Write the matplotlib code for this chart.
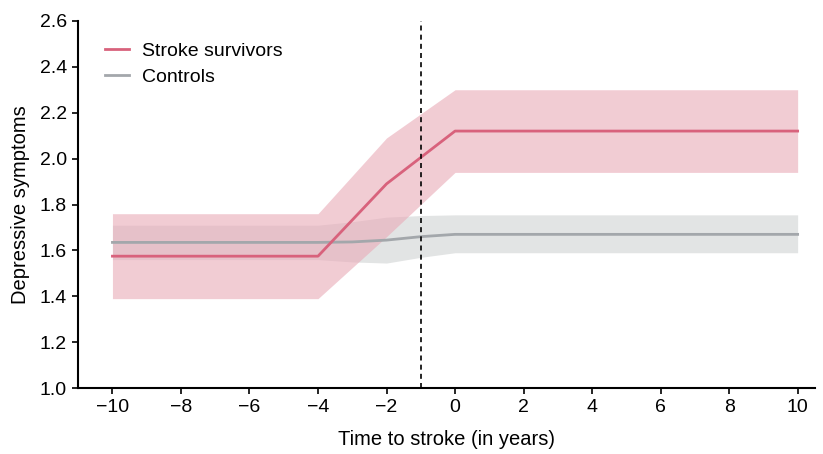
import matplotlib
matplotlib.use("Agg")
import matplotlib.pyplot as plt

plt.rcParams['font.family'] = ['Liberation Sans', 'DejaVu Sans']

years = [-10, -4, -2, 0, 10]
stroke_mean = [1.575, 1.575, 1.89, 2.12, 2.12]
stroke_lo = [1.39, 1.39, 1.66, 1.94, 1.94]
stroke_hi = [1.76, 1.76, 2.09, 2.30, 2.30]

ctrl_years = [-10, -4, -3, -2, -1, 0, 10]
ctrl_mean = [1.635, 1.635, 1.637, 1.645, 1.66, 1.67, 1.67]
ctrl_lo = [1.56, 1.56, 1.55, 1.545, 1.57, 1.59, 1.59]
ctrl_hi = [1.71, 1.71, 1.725, 1.745, 1.752, 1.755, 1.755]

xticks = [-10, -8, -6, -4, -2, 0, 2, 4, 6, 8, 10]
yticks = [1.0, 1.2, 1.4, 1.6, 1.8, 2.0, 2.2, 2.4, 2.6]

fig = plt.figure(figsize=(8.23, 4.54), dpi=100)
ax = fig.add_axes([0.095, 0.145, 0.895, 0.809])

ax.fill_between(ctrl_years, ctrl_lo, ctrl_hi, color='#d9dbdb', alpha=0.75, linewidth=0)
ax.fill_between(years, stroke_lo, stroke_hi, color='#e9aab7', alpha=0.6, linewidth=0)
ax.plot(ctrl_years, ctrl_mean, color='#a3a7ab', lw=2, label='Controls')
ax.plot(years, stroke_mean, color='#d8627c', lw=2, label='Stroke survivors')
ax.axvline(-1, color='black', ls='--', lw=1.2, dashes=(3, 2.5))

ax.set_xlim(-11.0, 10.5)
ax.set_ylim(1.0, 2.6)
ax.set_xticks(xticks)
ax.set_xticklabels([f"\u2212{abs(t)}" if t < 0 else str(t) for t in xticks])
ax.set_yticks(yticks)
ax.set_yticklabels([f"{t:.1f}" for t in yticks])
ax.spines['top'].set_visible(False)
ax.spines['right'].set_visible(False)
ax.spines['left'].set_linewidth(1.5)
ax.spines['bottom'].set_linewidth(1.5)
ax.tick_params(labelsize=14, length=4, width=1.2, pad=4)
ax.set_xlabel('Time to stroke (in years)', fontsize=14.5, labelpad=10)
ax.set_ylabel('Depressive symptoms', fontsize=14.5, labelpad=7)

h, l = ax.get_legend_handles_labels()
ax.legend(h[::-1], l[::-1], loc='upper left', bbox_to_anchor=(0.013, 0.99), frameon=False,
          fontsize=14, handlelength=1.2, handletextpad=0.7, labelspacing=0.45)

fig.savefig('out.png', dpi=100)
